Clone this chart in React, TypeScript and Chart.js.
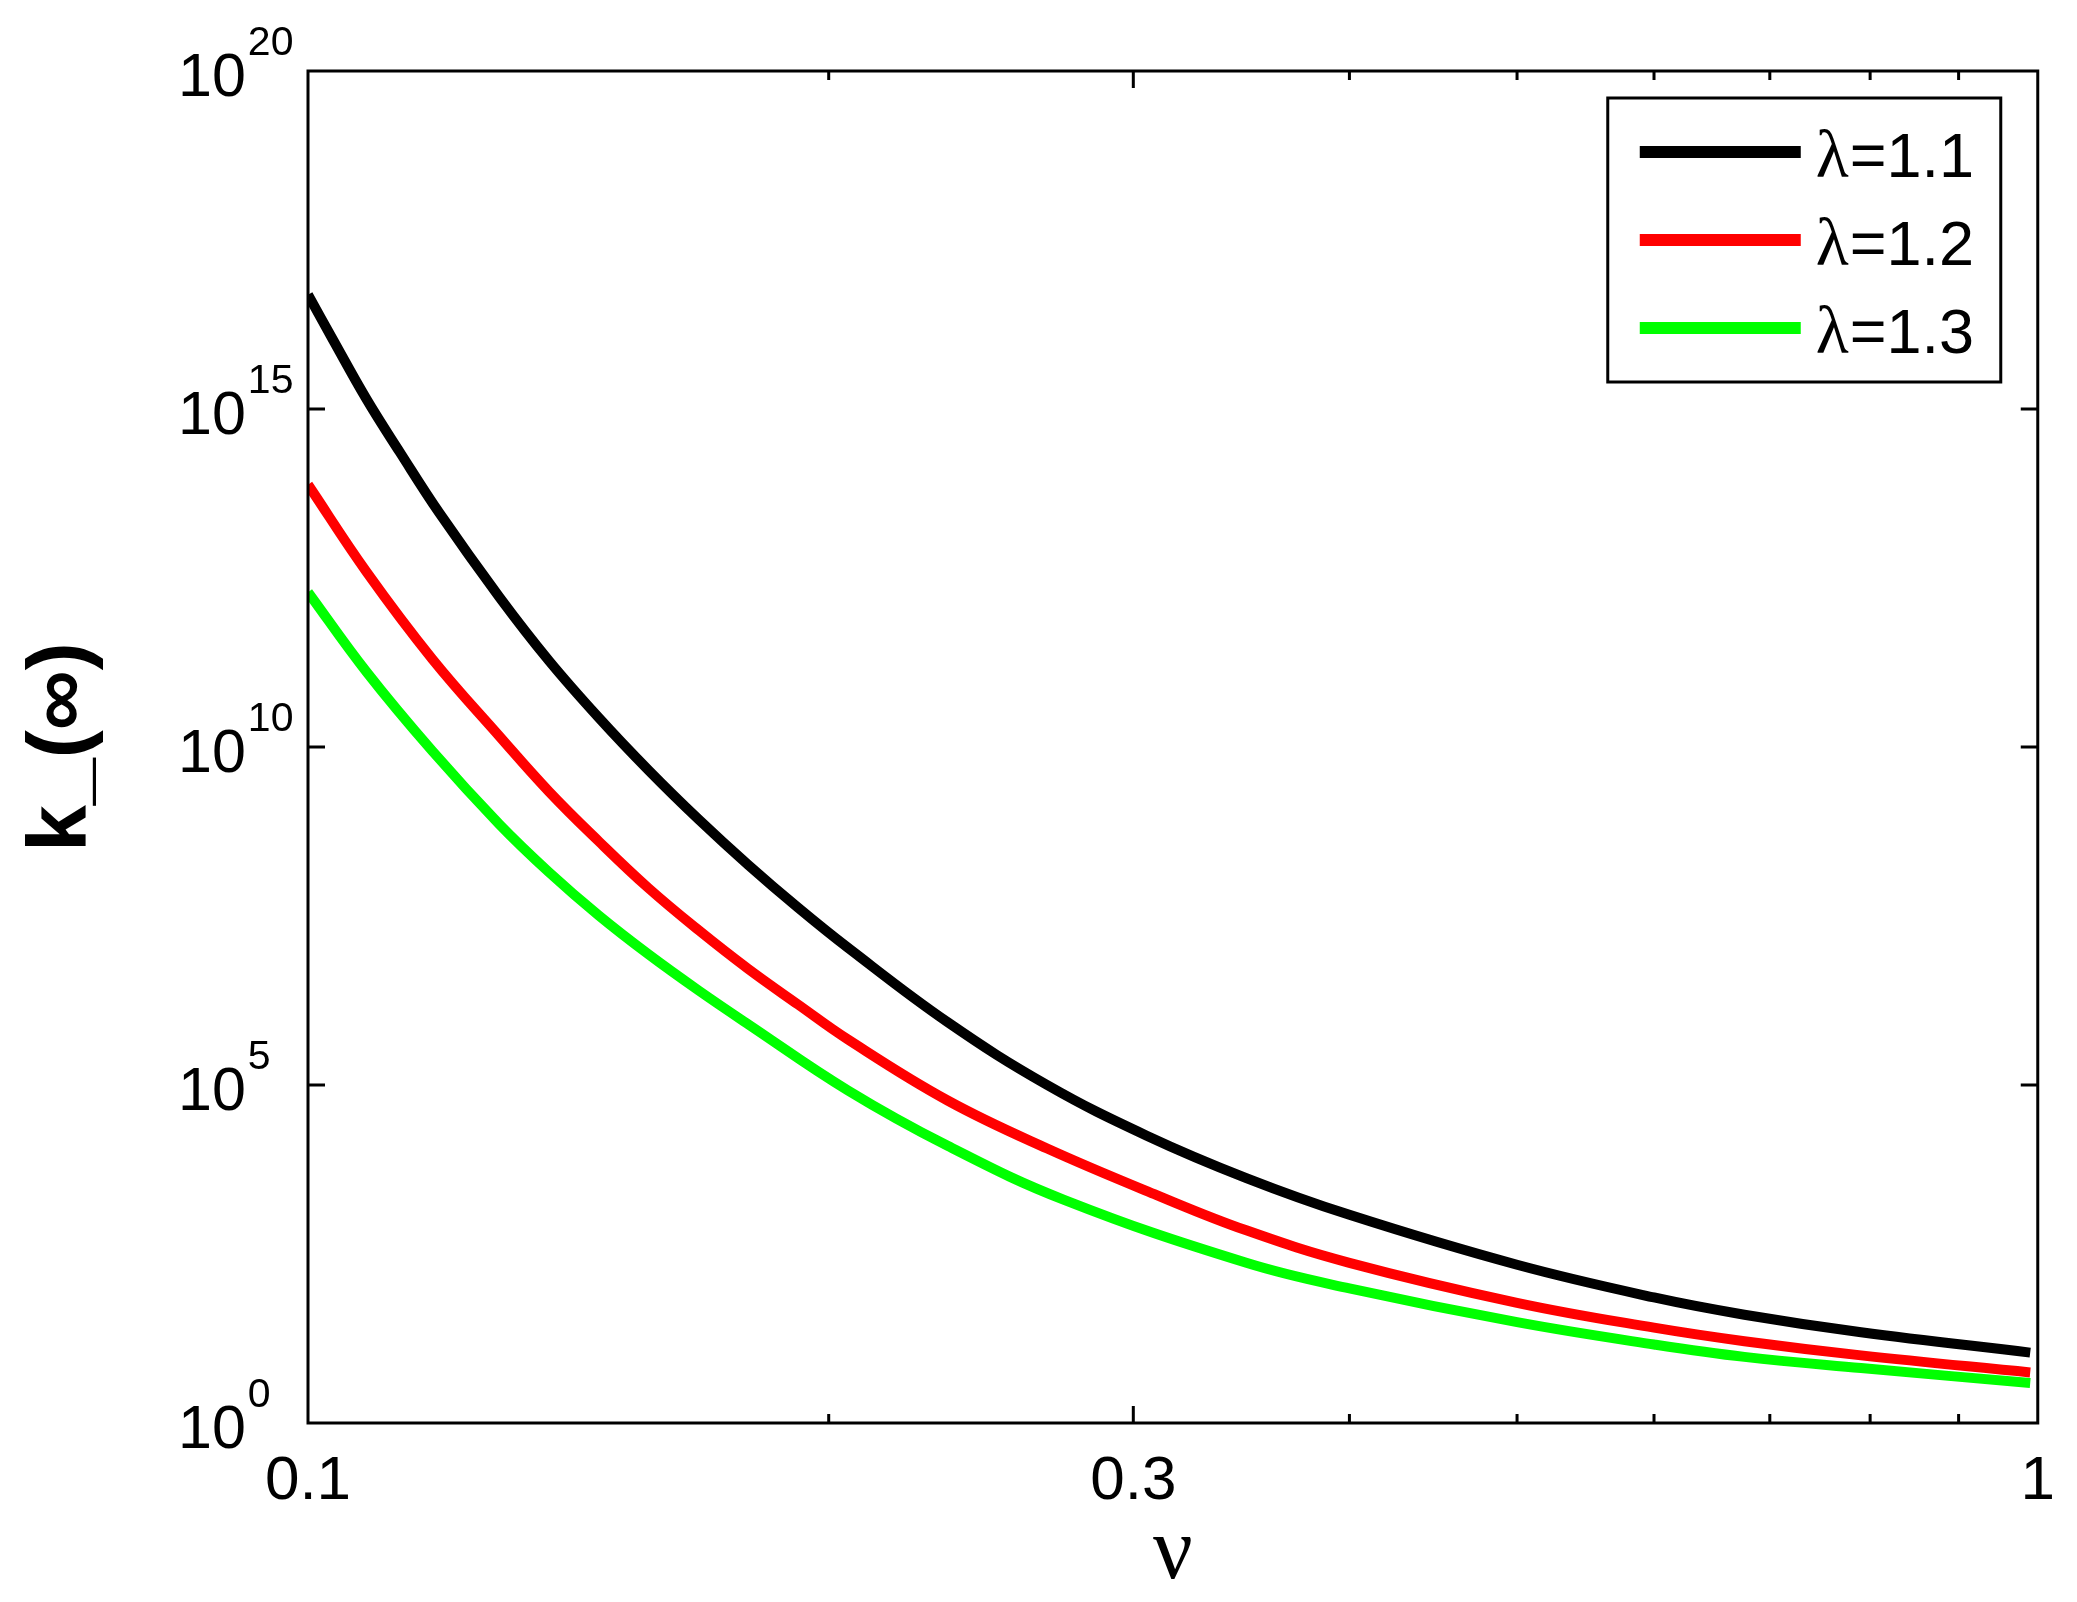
import React, { useEffect, useRef } from 'react';
import { Chart, registerables } from 'chart.js';

Chart.register(...registerables);

// ---- data ----
const nuL11 = [0.1, 0.1034, 0.1081, 0.113, 0.1191, 0.129, 0.1378, 0.1473, 0.1574, 0.1682, 0.1797, 0.192, 0.2052, 0.2343, 0.2675, 0.3054, 0.3487, 0.4, 0.5, 0.6, 0.6767, 0.7904, 0.99];
const kL11 = [4.9e16, 1.05e16, 1.4e15, 2.3e14, 2.9e13, 1.66e12, 1.9e11, 2.7e10, 4.5e9, 8.5e8, 1.8e8, 4.2e7, 1.07e7, 8.5e5, 1.0e5, 1.78e4, 4.2e3, 1.2e3, 219, 72, 40, 22, 11];

const nuL12 = [0.1, 0.1081, 0.118, 0.129, 0.1378, 0.1473, 0.1574, 0.1682, 0.1797, 0.192, 0.2052, 0.2343, 0.2675, 0.3095, 0.3487, 0.4, 0.5, 0.6, 0.6767, 0.7904, 0.99];
const kL12 = [7.6e13, 3.9e12, 2.0e11, 1.45e10, 2.2e9, 4.0e8, 8.1e7, 1.95e7, 5.2e6, 1.55e6, 4.7e5, 5.9e4, 1.15e4, 2.35e3, 708, 234, 60, 25.7, 16.2, 10, 5.6];

const nuL13 = [0.1, 0.1081, 0.118, 0.129, 0.1378, 0.1473, 0.1574, 0.1682, 0.1797, 0.2052, 0.2343, 0.2736, 0.3487, 0.4, 0.5, 0.6, 0.6767, 0.7904, 0.99];
const kL13 = [1.95e12, 1.29e11, 8.7e9, 7.2e8, 1.41e8, 3.2e7, 8.5e6, 2.5e6, 7.9e5, 8.3e4, 1.26e4, 2.0e3, 234, 98, 31, 14.5, 9.5, 6.5, 3.9];

const seriesLabels = ['λ=1.1', 'λ=1.2', 'λ=1.3'];
const seriesColors = ['#000000', '#ff0000', '#00ff00'];

const xMin = 0.1;
const xMax = 1;
const xMajorTicks = [0.1, 0.3, 1];
const xTickLabels = ['0.1', '0.3', '1'];
const xMinorTicks = [0.2, 0.4, 0.5, 0.6, 0.7, 0.8, 0.9];

const yMin = 1;
const yMax = 1e20;
const yTickValues = [1, 1e5, 1e10, 1e15, 1e20];
const yTickBase = '10';
const yTickExponents = ['0', '5', '10', '15', '20'];

const xTitle = 'ν';
const yTitle = 'k_(∞)';

const SANS = "'Liberation Sans', Arial, Helvetica, sans-serif";
const SERIF = "'Liberation Serif', 'Times New Roman', serif";

const framePlugin = {
  id: 'matlabFrame',
  afterDatasetsDraw(chart: any) {
    const { ctx, chartArea: a, scales } = chart;
    const xs = scales.x;
    const ys = scales.y;
    ctx.save();
    ctx.strokeStyle = '#000';
    ctx.lineWidth = 3;
    ctx.lineCap = 'butt';
    ctx.strokeRect(a.left, a.top, a.right - a.left, a.bottom - a.top);
    ctx.beginPath();
    const xTick = (v: number, len: number) => {
      const px = xs.getPixelForValue(v);
      ctx.moveTo(px, a.bottom);
      ctx.lineTo(px, a.bottom - len);
      ctx.moveTo(px, a.top);
      ctx.lineTo(px, a.top + len);
    };
    xMajorTicks.forEach((v) => {
      if (v > xMin && v < xMax) xTick(v, 17);
    });
    xMinorTicks.forEach((v) => xTick(v, 9));
    yTickValues.forEach((v) => {
      if (v > yMin && v < yMax) {
        const py = ys.getPixelForValue(v);
        ctx.moveTo(a.left, py);
        ctx.lineTo(a.left + 17, py);
        ctx.moveTo(a.right, py);
        ctx.lineTo(a.right - 17, py);
      }
    });
    ctx.stroke();

    // y tick labels: 10 with superscript exponent
    ctx.fillStyle = '#000';
    ctx.textAlign = 'left';
    ctx.textBaseline = 'alphabetic';
    yTickValues.forEach((v, i) => {
      const py = ys.getPixelForValue(v);
      const x0 = a.left - 130;
      ctx.font = `61px ${SANS}`;
      ctx.fillText(yTickBase, x0, py + 25);
      const w = ctx.measureText(yTickBase).width;
      ctx.font = `41px ${SANS}`;
      ctx.fillText(yTickExponents[i], x0 + w + 2, py - 16);
    });
    ctx.restore();
  },
};

const legendPlugin = {
  id: 'insideLegend',
  afterDraw(chart: any) {
    const { ctx, chartArea: a } = chart;
    const w = 393;
    const h = 284;
    const left = a.right - 37 - w;
    const top = a.top + 27;
    ctx.save();
    ctx.fillStyle = '#fff';
    ctx.fillRect(left, top, w, h);
    ctx.strokeStyle = '#000';
    ctx.lineWidth = 3;
    ctx.strokeRect(left, top, w, h);
    chart.data.datasets.forEach((ds: any, i: number) => {
      const cy = top + 54 + i * 88;
      ctx.strokeStyle = ds.borderColor;
      ctx.lineWidth = 12;
      ctx.lineCap = 'butt';
      ctx.beginPath();
      ctx.moveTo(left + 32, cy);
      ctx.lineTo(left + 193, cy);
      ctx.stroke();
      ctx.fillStyle = '#000';
      ctx.textAlign = 'left';
      ctx.textBaseline = 'alphabetic';
      const label: string = ds.label;
      const head = label.slice(0, 1);
      const rest = label.slice(1);
      ctx.font = `68px ${SERIF}`;
      ctx.fillText(head, left + 208, cy + 25);
      const hw = ctx.measureText(head).width;
      ctx.font = `63px ${SANS}`;
      ctx.fillText(rest, left + 208 + hw + 1, cy + 25);
    });
    ctx.restore();
  },
};

function makeSeries(nu: number[], k: number[]) {
  return nu.map((x, i) => ({ x, y: k[i] }));
}

export default function App() {
  const canvasRef = useRef<HTMLCanvasElement | null>(null);

  useEffect(() => {
    const canvas = canvasRef.current;
    if (!canvas) return;
    const seriesData = [makeSeries(nuL11, kL11), makeSeries(nuL12, kL12), makeSeries(nuL13, kL13)];
    const chart = new Chart(canvas, {
      type: 'line',
      data: {
        datasets: seriesData.map((d, i) => ({
          label: seriesLabels[i],
          data: d,
          borderColor: seriesColors[i],
          backgroundColor: seriesColors[i],
          borderWidth: 10,
          pointRadius: 0,
          fill: false,
          tension: 0.4,
        })),
      },
      options: {
        responsive: false,
        animation: false,
        devicePixelRatio: 1,
        layout: { padding: { left: 0, right: 33, top: 71, bottom: 0 } },
        plugins: {
          legend: { display: false },
          tooltip: { enabled: false },
        },
        scales: {
          x: {
            type: 'logarithmic',
            min: xMin,
            max: xMax,
            grid: { display: false, drawTicks: false },
            border: { display: false },
            afterBuildTicks: (s: any) => {
              s.ticks = xMajorTicks.map((v) => ({ value: v }));
            },
            afterFit: (s: any) => {
              s.height = 179;
            },
            ticks: {
              autoSkip: false,
              maxRotation: 0,
              minRotation: 0,
              padding: 22,
              color: '#000',
              font: { family: SANS, size: 62 },
              callback: (_v: any, i: number) => xTickLabels[i],
            },
            title: {
              display: true,
              text: xTitle,
              color: '#000',
              font: { family: SERIF, size: 88, lineHeight: 1 },
              padding: { top: 0, bottom: 3 },
            },
          },
          y: {
            type: 'logarithmic',
            min: yMin,
            max: yMax,
            grid: { display: false, drawTicks: false },
            border: { display: false },
            ticks: { display: false },
            afterFit: (s: any) => {
              s.width = 308;
            },
            title: {
              display: true,
              text: yTitle,
              color: '#000',
              font: { family: SANS, size: 84, weight: 'bold', lineHeight: 1.2 },
              padding: { top: 12, bottom: 0 },
            },
          },
        },
      },
      plugins: [framePlugin, legendPlugin],
    });
    return () => chart.destroy();
  }, []);

  return (
    <div style={{ position: 'absolute', left: 0, top: 0, width: 2077, height: 1602, background: '#fff' }}>
      <canvas ref={canvasRef} width={2077} height={1602} style={{ width: 2077, height: 1602, display: 'block' }} />
    </div>
  );
}
